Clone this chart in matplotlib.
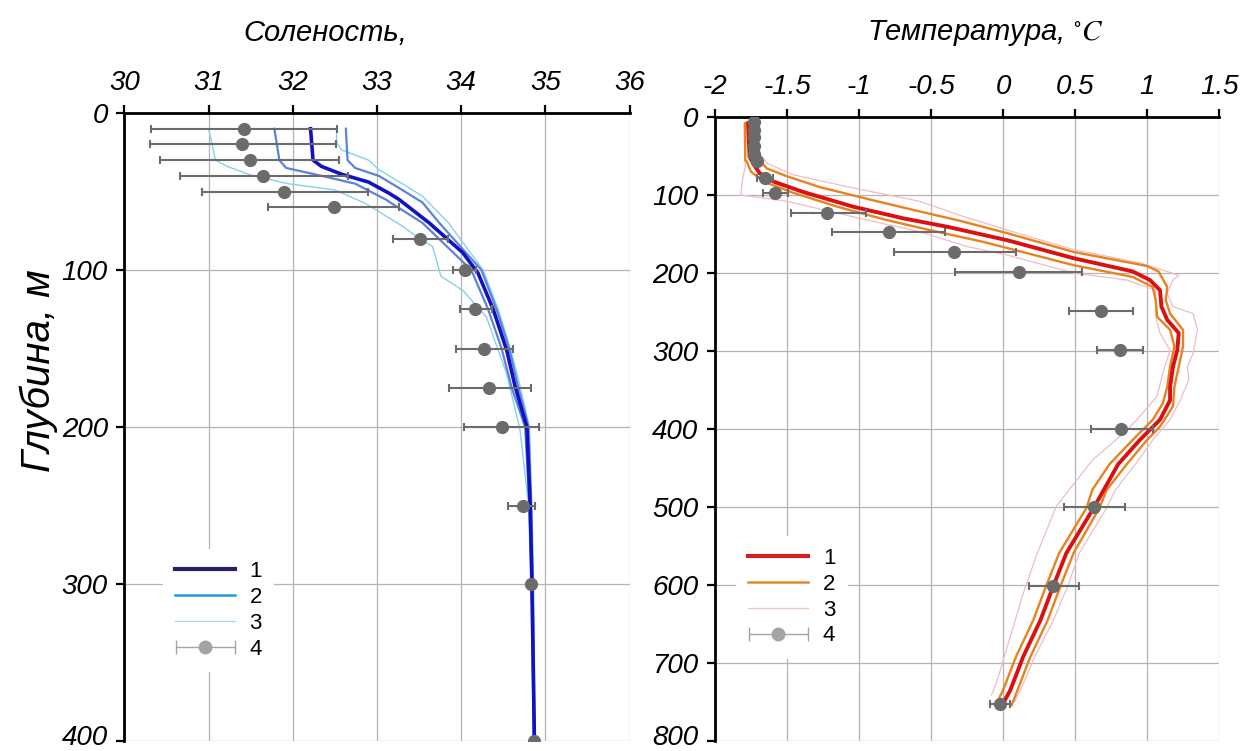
import numpy as np
import matplotlib
matplotlib.use("Agg")
import matplotlib.pyplot as plt
from matplotlib.lines import Line2D
from matplotlib.legend_handler import HandlerErrorbar
from matplotlib.transforms import ScaledTranslation

plt.rcParams["font.family"] = ["Liberation Sans", "DejaVu Sans"]
plt.rcParams["mathtext.fontset"] = "stix"

# ---- salinity panel data (depth in m) ----
sal_obs_depth = [10, 20, 30, 40, 50, 60, 80, 100, 125, 150, 175, 200, 250, 300, 400]
sal_obs = [31.42, 31.40, 31.49, 31.65, 31.90, 32.49, 33.51, 34.04, 34.16, 34.27, 34.33, 34.48, 34.74, 34.83, 34.87]
sal_obs_lo = [30.31, 30.30, 30.42, 30.66, 30.92, 31.71, 33.19, 33.90, 33.98, 33.94, 33.85, 34.03, 34.56, 34.82, 34.86]
sal_obs_hi = [32.53, 32.51, 32.55, 32.66, 32.89, 33.26, 33.84, 34.18, 34.36, 34.61, 34.83, 34.92, 34.88, 34.84, 34.88]

sal1_depth = [10, 30, 34, 39, 44, 51, 55, 65, 70, 89, 102, 125, 151, 174, 200, 250, 300, 400]
sal1 = [32.21, 32.24, 32.34, 32.58, 32.90, 33.14, 33.26, 33.50, 33.62, 34.02, 34.20, 34.38, 34.54, 34.64, 34.78, 34.82, 34.84, 34.87]

sal2a_depth = [10, 30, 35, 39.5, 45, 55, 70, 100, 125, 150, 175, 200, 250, 300, 400]
sal2a = [31.78, 31.84, 31.92, 32.30, 32.74, 33.10, 33.54, 34.12, 34.32, 34.48, 34.60, 34.76, 34.81, 34.84, 34.86]
sal2b_depth = [10, 30, 35, 40, 49, 57, 70, 100, 125, 150, 175, 200, 250, 300, 400]
sal2b = [32.63, 32.65, 32.74, 33.02, 33.30, 33.54, 33.74, 34.24, 34.42, 34.57, 34.68, 34.80, 34.83, 34.85, 34.87]

sal3a_depth = [10, 30, 34, 39.5, 45, 49, 57.5, 72, 79, 85, 104, 113, 130, 166, 202, 250, 300, 400]
sal3a = [31.00, 31.08, 31.22, 31.50, 31.94, 32.50, 32.86, 33.30, 33.48, 33.66, 33.76, 34.02, 34.30, 34.54, 34.70, 34.80, 34.83, 34.86]
sal3b_depth = [10, 19, 23.5, 30, 36, 45, 53, 70, 100, 125, 151, 174, 200, 250, 300, 400]
sal3b = [32.52, 32.52, 32.58, 32.90, 33.02, 33.30, 33.54, 33.85, 34.26, 34.44, 34.59, 34.70, 34.81, 34.84, 34.86, 34.88]

# ---- temperature panel data ----
tmp_obs_depth = [6, 17, 26, 37, 47, 57, 78, 98, 123, 148, 173, 199, 249, 299, 400, 500, 601, 752]
tmp_obs = [-1.73, -1.73, -1.73, -1.73, -1.73, -1.71, -1.65, -1.58, -1.22, -0.79, -0.34, 0.11, 0.68, 0.81, 0.82, 0.63, 0.35, -0.02]
tmp_obs_lo = [-1.76, -1.76, -1.76, -1.76, -1.76, -1.74, -1.71, -1.67, -1.47, -1.19, -0.76, -0.33, 0.46, 0.65, 0.61, 0.42, 0.18, -0.09]
tmp_obs_hi = [-1.70, -1.70, -1.70, -1.70, -1.70, -1.68, -1.60, -1.49, -0.95, -0.40, 0.09, 0.55, 0.90, 0.97, 1.04, 0.85, 0.53, 0.05]

tmp1_depth = [8, 51, 61, 72, 83, 96, 115, 130, 141, 158, 181, 198, 209, 222, 243, 260, 277, 299, 320, 346,
              363, 388, 414, 445, 478, 501, 559, 601, 645, 692, 735, 752]
tmp1 = [-1.77, -1.76, -1.73, -1.69, -1.59, -1.39, -1.04, -0.69, -0.38, 0.03, 0.49, 0.90, 1.02, 1.09, 1.10, 1.14,
        1.22, 1.21, 1.18, 1.16, 1.16, 1.09, 0.95, 0.80, 0.70, 0.63, 0.44, 0.35, 0.26, 0.14, 0.05, 0.00]

tmp2a_depth = [8, 45, 51, 66, 76, 90, 106, 121, 133, 149, 173, 191, 198, 218, 235, 252, 273, 294, 320, 346,
               371, 397, 414, 445, 478, 501, 559, 601, 645, 692, 735, 754]
tmp2a = [-1.745, -1.745, -1.71, -1.64, -1.50, -1.27, -0.92, -0.58, -0.30, 0.03, 0.49, 1.00, 1.08, 1.14, 1.13, 1.16,
         1.25, 1.25, 1.22, 1.19, 1.18, 1.09, 1.00, 0.86, 0.72, 0.67, 0.49, 0.40, 0.31, 0.19, 0.10, 0.06]
tmp2b_depth = [8, 55, 57, 70, 83, 97, 115, 132, 147, 160, 168, 190, 205, 218, 235, 256, 273, 294, 320, 346,
               367, 388, 414, 445, 478, 501, 559, 601, 645, 692, 735, 750]
tmp2b = [-1.79, -1.79, -1.78, -1.75, -1.66, -1.46, -1.15, -0.81, -0.46, -0.14, 0.03, 0.49, 0.90, 1.04, 1.06, 1.07,
         1.16, 1.19, 1.16, 1.14, 1.11, 1.04, 0.90, 0.74, 0.62, 0.58, 0.39, 0.30, 0.21, 0.09, 0.00, -0.04]

tmp3a_depth = [8, 42, 59, 74, 91, 108, 126, 145, 170, 187, 194, 203, 209, 226, 243, 252, 273, 303, 320, 337,
               363, 388, 414, 445, 478, 501, 559, 601, 645, 692, 735, 750]
tmp3a = [-1.73, -1.71, -1.64, -1.46, -1.04, -0.58, -0.30, 0.03, 0.49, 0.95, 1.07, 1.22, 1.18, 1.14, 1.18, 1.32,
         1.35, 1.32, 1.28, 1.29, 1.23, 1.16, 1.04, 0.92, 0.78, 0.72, 0.53, 0.45, 0.35, 0.22, 0.12, 0.08]
tmp3b_depth = [8, 64, 81, 100, 102, 108, 128, 147, 166, 177, 200, 209, 222, 256, 277, 299, 328, 358, 388, 405,
               440, 499, 563, 611, 679, 722, 741]
tmp3b = [-1.80, -1.79, -1.81, -1.82, -1.74, -1.50, -1.04, -0.58, -0.25, 0.03, 0.49, 0.86, 1.06, 1.06, 1.09, 1.16,
         1.11, 1.07, 0.93, 0.84, 0.62, 0.37, 0.23, 0.14, 0.03, -0.04, -0.08]

sal_ticks = [30, 31, 32, 33, 34, 35, 36]
sal_depth_ticks = [0, 100, 200, 300, 400]
tmp_ticks = [-2, -1.5, -1, -0.5, 0, 0.5, 1, 1.5]
tmp_tick_labels = ["-2", "-1.5", "-1", "-0.5", "0", "0.5", "1", "1.5"]
tmp_depth_ticks = [0, 100, 200, 300, 400, 500, 600, 700, 800]
legend_labels = ["1", "2", "3", "4"]

OBS = "#6b6b6b"


def style_axis(ax):
    ax.xaxis.tick_top()
    for side in ("bottom", "right"):
        ax.spines[side].set_visible(False)
    for side in ("top", "left"):
        ax.spines[side].set_linewidth(2.0)
    ax.tick_params(axis="both", which="major", length=6, width=1.6, direction="out",
                   labelsize=20, pad=6)
    for lab in ax.get_xticklabels() + ax.get_yticklabels():
        lab.set_fontstyle("italic")
    # bottom depth label sits on the figure edge; nudge it up a little
    last = ax.get_yticklabels()[-1]
    last.set_transform(last.get_transform() + ScaledTranslation(0, 4 / 72, fig.dpi_scale_trans))
    ax.grid(True, color="#b4b4b4", lw=0.9)
    ax.set_axisbelow(True)


def obs_errorbar(ax, x, y, lo, hi):
    x = np.array(x)
    xerr = [x - np.array(lo), np.array(hi) - x]
    ax.errorbar(x, y, xerr=xerr, fmt="o", color=OBS, ms=8.5, elinewidth=1.5,
                capsize=3, capthick=1.5, zorder=6)


fig = plt.figure(figsize=(12.4, 7.51), dpi=100)
ax1 = fig.add_axes([0.1004, 0.0133, 0.4073, 0.8362])
ax2 = fig.add_axes([0.5766, 0.0133, 0.4065, 0.8309])

# salinity
ax1.plot(sal3a, sal3a_depth, color="#86d2e6", lw=1.0, zorder=3)
ax1.plot(sal3b, sal3b_depth, color="#86d2e6", lw=1.0, zorder=3)
ax1.plot(sal2a, sal2a_depth, color="#5b82dc", lw=1.6, zorder=4)
ax1.plot(sal2b, sal2b_depth, color="#5b82dc", lw=1.6, zorder=4)
ax1.plot(sal1, sal1_depth, color="#1212c4", lw=2.6, zorder=5)
obs_errorbar(ax1, sal_obs, sal_obs_depth, sal_obs_lo, sal_obs_hi)
ax1.set_xlim(sal_ticks[0], sal_ticks[-1])
ax1.set_ylim(sal_depth_ticks[-1], sal_depth_ticks[0])
ax1.set_xticks(sal_ticks)
ax1.set_yticks(sal_depth_ticks)
style_axis(ax1)
ax1.set_ylabel("Глубина, м", fontsize=29, fontstyle="italic")
ax1.yaxis.set_label_coords(-0.132, 0.59)

# temperature
ax2.plot(tmp3a, tmp3a_depth, color="#f0bcc4", lw=0.9, zorder=3)
ax2.plot(tmp3b, tmp3b_depth, color="#f0bcc4", lw=0.9, zorder=3)
ax2.plot(tmp2a, tmp2a_depth, color="#e8821e", lw=1.7, zorder=4)
ax2.plot(tmp2b, tmp2b_depth, color="#e8821e", lw=1.7, zorder=4)
ax2.plot(tmp1, tmp1_depth, color="#dc1010", lw=2.8, zorder=5)
obs_errorbar(ax2, tmp_obs, tmp_obs_depth, tmp_obs_lo, tmp_obs_hi)
ax2.set_xlim(tmp_ticks[0], tmp_ticks[-1])
ax2.set_ylim(tmp_depth_ticks[-1], tmp_depth_ticks[0])
ax2.set_xticks(tmp_ticks)
ax2.set_xticklabels(tmp_tick_labels)
ax2.set_yticks(tmp_depth_ticks)
style_axis(ax2)

fig.text(325 / 1240, 1 - 33 / 751, "Соленость,", fontsize=21, fontstyle="italic",
         ha="center", va="center")
fig.text(985 / 1240, 1 - 33 / 751, "Температура, $^{\\circ}\\mathit{C}$", fontsize=21,
         fontstyle="italic", ha="center", va="center")


def add_legend(ax, colors, widths, anchor):
    handles = [Line2D([], [], color=c, lw=w) for c, w in zip(colors, widths)]
    proxy = ax.errorbar([np.nan], [np.nan], xerr=[[np.nan], [np.nan]], fmt="o",
                        color="#a4a4a4", ms=9, elinewidth=1.0, capsize=5, capthick=1.0)
    handles.append(proxy)
    leg = ax.legend(handles, legend_labels, loc="upper left", bbox_to_anchor=anchor,
                    frameon=True, fontsize=16, handlelength=2.7, labelspacing=0.22,
                    handletextpad=0.65, borderpad=0.55,
                    handler_map={type(proxy): HandlerErrorbar(xerr_size=1.33)})
    leg.get_frame().set_facecolor("white")
    leg.get_frame().set_edgecolor("none")
    leg.get_frame().set_alpha(1)
    leg.set_zorder(10)


add_legend(ax1, ["#24206a", "#1e9edc", "#a8d8ec"], [3.0, 1.8, 0.9], (0.054, 0.324))
add_legend(ax2, ["#d42020", "#e08a30", "#ecc4c8"], [3.0, 1.8, 0.9], (0.02, 0.347))

fig.savefig("out.png", dpi=100)
